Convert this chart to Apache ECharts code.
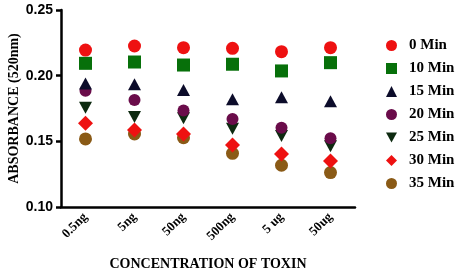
<!DOCTYPE html>
<html><head><meta charset="utf-8">
<script src="https://cdn.jsdelivr.net/npm/echarts@6/dist/echarts.min.js"></script>
<style>html,body{margin:0;padding:0;background:#fff}#c{width:459px;height:274px}</style>
</head><body><div id="c"></div>
<script>
const categories = ['0.5ng','5ng','50ng','500ng','5 ug','50ug'];
const seriesNames = ['0 Min','10 Min','15 Min','20 Min','25 Min','30 Min','35 Min'];
const min0  = [0.2195,0.2226,0.2213,0.2208,0.2183,0.2213];
const min10 = [0.2094,0.2104,0.2081,0.2087,0.2036,0.2099];
const min15 = [0.1940,0.1935,0.1890,0.1820,0.1835,0.1805];
const min20 = [0.1886,0.1815,0.1734,0.1670,0.1604,0.1524];
const min25 = [0.1755,0.1686,0.1676,0.1595,0.1540,0.1463];
const min30 = [0.1638,0.1587,0.1556,0.1473,0.1404,0.1351];
const min35 = [0.1518,0.1556,0.1528,0.1409,0.1318,0.1262];
const yTicks = [0.10,0.15,0.20,0.25];

const values = [min0,min10,min15,min20,min25,min30,min35];
const symbols = ['circle','rect','triangle','circle','path://M0,0 L10,0 L5,9 Z','diamond','circle'];
const sizes = [[13,13],[13,13],[13,12],[12,12],[13,12],[15,15],[13,13]];
const colors = ['#ee1111','#07700a','#0c0c2a','#6a0c4a','#0d2a10','#ee1111','#8a5a16'];

const serif = 'Liberation Serif';
const chart = echarts.init(document.getElementById('c'));
chart.setOption({
  animation:false,
  grid:{left:61,right:104,top:10,bottom:67,outerBoundsMode:'none',containLabel:false},
  legend:{
    orient:'vertical', left:381, top:33, itemWidth:11, itemHeight:11, itemGap:8,
    data:seriesNames,
    textStyle:{fontFamily:serif,fontWeight:'bold',fontSize:15,color:'#000',padding:[0,0,0,7]},
  },
  xAxis:{
    type:'category', data:categories, boundaryGap:true,
    axisLine:{lineStyle:{color:'#000',width:2.5}},
    axisTick:{alignWithLabel:true,length:5,lineStyle:{color:'#000',width:2.5}},
    axisLabel:{rotate:45,fontFamily:serif,fontWeight:'bold',fontSize:13,color:'#000',margin:8},
    name:'CONCENTRATION OF TOXIN', nameLocation:'middle', nameGap:50, nameMoveOverlap:false,
    nameTextStyle:{fontFamily:serif,fontWeight:'bold',fontSize:14,color:'#000'}
  },
  yAxis:{
    type:'value', min:yTicks[0], max:yTicks[yTicks.length-1], interval:0.05,
    axisLine:{show:true,lineStyle:{color:'#000',width:2.5}},
    axisTick:{show:true,length:5,lineStyle:{color:'#000',width:2.5}},
    splitLine:{show:false},
    axisLabel:{fontFamily:'Liberation Sans',fontWeight:'bold',fontSize:14,color:'#000',margin:8,
      formatter:v=>v.toFixed(2)},
    name:'ABSORBANCE (520nm)', nameLocation:'middle', nameGap:40, nameRotate:90, nameMoveOverlap:false,
    nameTextStyle:{fontFamily:serif,fontWeight:'bold',fontSize:14,color:'#000'}
  },
  series: seriesNames.map((n,i)=>({
    name:n, type:'scatter', data:values[i], symbol:symbols[i], symbolSize:sizes[i],
    itemStyle:{color:colors[i],opacity:1}, z:10-i
  }))
});
</script></body></html>
